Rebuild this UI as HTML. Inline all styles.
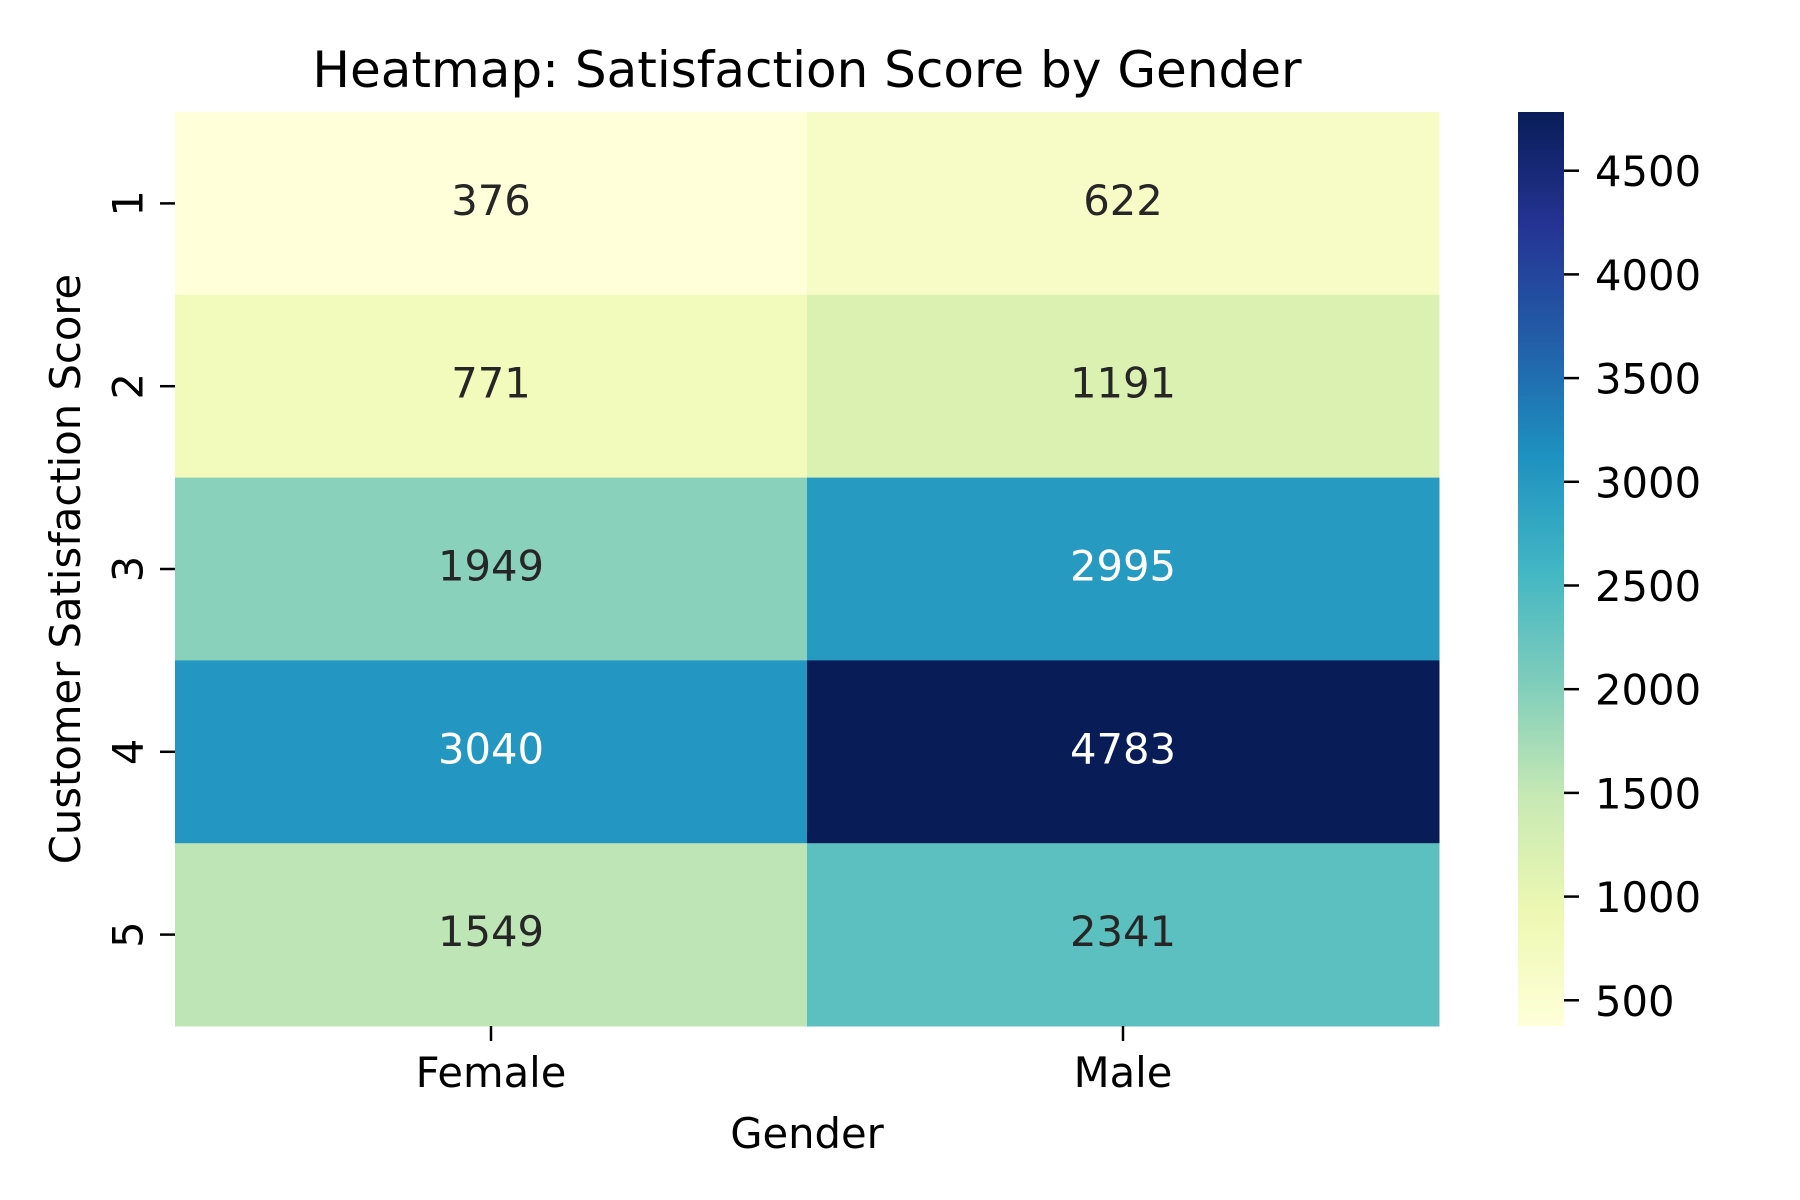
<!DOCTYPE html>
<html><head><meta charset="utf-8"><style>
html,body{margin:0;padding:0;background:#fff;}
svg{display:block;font-family:"DejaVu Sans","Liberation Sans",sans-serif;}
</style></head><body>
<svg id="chart" width="1800" height="1200" viewBox="0 0 1800 1200">
<defs><linearGradient id="cbgrad" x1="0" y1="1" x2="0" y2="0">
<stop offset="0" stop-color="#ffffd9"/><stop offset="0.125" stop-color="#edf8b1"/><stop offset="0.25" stop-color="#c7e9b4"/><stop offset="0.375" stop-color="#7fcdbb"/><stop offset="0.5" stop-color="#41b6c4"/><stop offset="0.625" stop-color="#1d91c0"/><stop offset="0.75" stop-color="#225ea8"/><stop offset="0.875" stop-color="#253494"/><stop offset="1" stop-color="#081d58"/>
</linearGradient></defs>
<text x="807" y="87" font-size="50" text-anchor="middle" fill="#000">Heatmap: Satisfaction Score by Gender</text>
<text x="0" y="0" font-size="41.7" text-anchor="middle" fill="#000" transform="translate(80,569) rotate(-90)">Customer Satisfaction Score</text>
<text x="807" y="1148" font-size="41.7" text-anchor="middle" fill="#000">Gender</text>
<g id="cells"></g>
<g id="cbar"></g>
</svg>
<script>
const rows = ["1","2","3","4","5"];
const cols = ["Female","Male"];
const female = [376, 771, 1949, 3040, 1549];
const male = [622, 1191, 2995, 4783, 2341];
const cbTicks = [500,1000,1500,2000,2500,3000,3500,4000,4500];

const series = [female, male];
const NS = "http://www.w3.org/2000/svg";
const X0 = 175, X1 = 1439, Y0 = 112, Y1 = 1026;
const cw = (X1 - X0) / cols.length, ch = (Y1 - Y0) / rows.length;
const all = female.concat(male);
const vmin = Math.min(...all), vmax = Math.max(...all);
const stops = ["#ffffd9","#edf8b1","#c7e9b4","#7fcdbb","#41b6c4","#1d91c0","#225ea8","#253494","#081d58"];
function hex(h){return [1,3,5].map(i=>parseInt(h.substr(i,2),16));}
function cmap(v){
  let t = (v - vmin) / (vmax - vmin); t = Math.max(0, Math.min(1, t));
  const p = t * (stops.length - 1), i = Math.min(Math.floor(p), stops.length - 2), f = p - i;
  const a = hex(stops[i]), b = hex(stops[i+1]);
  const c = a.map((x,k)=>Math.round(x + (b[k]-x)*f));
  return {col:`rgb(${c[0]},${c[1]},${c[2]})`, lum:(0.299*c[0]+0.587*c[1]+0.114*c[2])};
}
function xPos(ci){return X0 + ci * cw;}
function yPos(ri){return Y0 + ri * ch;}
function cbY(v){return Y1 - (v - vmin) / (vmax - vmin) * (Y1 - Y0);}
function mk(tag, attrs, parent){const e=document.createElementNS(NS,tag);for(const k in attrs)e.setAttribute(k,attrs[k]);parent.appendChild(e);return e;}
const g = document.getElementById("cells");
series.forEach((vals, ci) => {
  vals.forEach((v, ri) => {
    const c = cmap(v);
    const r = mk("rect", {x:xPos(ci), y:yPos(ri), width:cw+0.5, height:ch+0.5, fill:c.col}, g);
    
    
    const t = mk("text", {x:xPos(ci)+cw/2, y:yPos(ri)+ch/2-3, "font-size":41.7, "text-anchor":"middle", "dominant-baseline":"central", fill: c.lum < 128 ? "#ffffff" : "#262626"}, g);
    t.textContent = v;
    
    
  });
});
rows.forEach((lab, ri) => {
  const cy = yPos(ri) + ch/2;
  const tk = mk("line", {x1:X0-15, x2:X0, y1:cy, y2:cy, stroke:"#000", "stroke-width":2.5}, g);
  
  
  const t = mk("text", {x:0, y:0, "font-size":41.7, "text-anchor":"middle", "dominant-baseline":"central", fill:"#000", transform:`translate(${X0-47},${cy}) rotate(-90)`}, g);
  t.textContent = lab;
  
  
});
cols.forEach((lab, ci) => {
  const cx = xPos(ci) + cw/2;
  const tk = mk("line", {x1:cx, x2:cx, y1:Y1, y2:Y1+15, stroke:"#000", "stroke-width":2.5}, g);
  
  
  const t = mk("text", {x:cx, y:1087, "font-size":41.7, "text-anchor":"middle", fill:"#000"}, g);
  t.textContent = lab;
  
  
});
const cb = document.getElementById("cbar");
const CX0 = 1518, CX1 = 1564;
const bar = mk("rect", {x:CX0, y:Y0, width:CX1-CX0, height:Y1-Y0, fill:"url(#cbgrad)"}, cb);


cbTicks.forEach(v => {
  const y = cbY(v);
  const tk = mk("line", {x1:CX1, x2:CX1+15, y1:y, y2:y, stroke:"#000", "stroke-width":2.5}, cb);
  
  
  const t = mk("text", {x:1595, y:y+1, "font-size":41.7, "dominant-baseline":"central", fill:"#000"}, cb);
  t.textContent = v;
  
  
});
</script>
</body></html>
